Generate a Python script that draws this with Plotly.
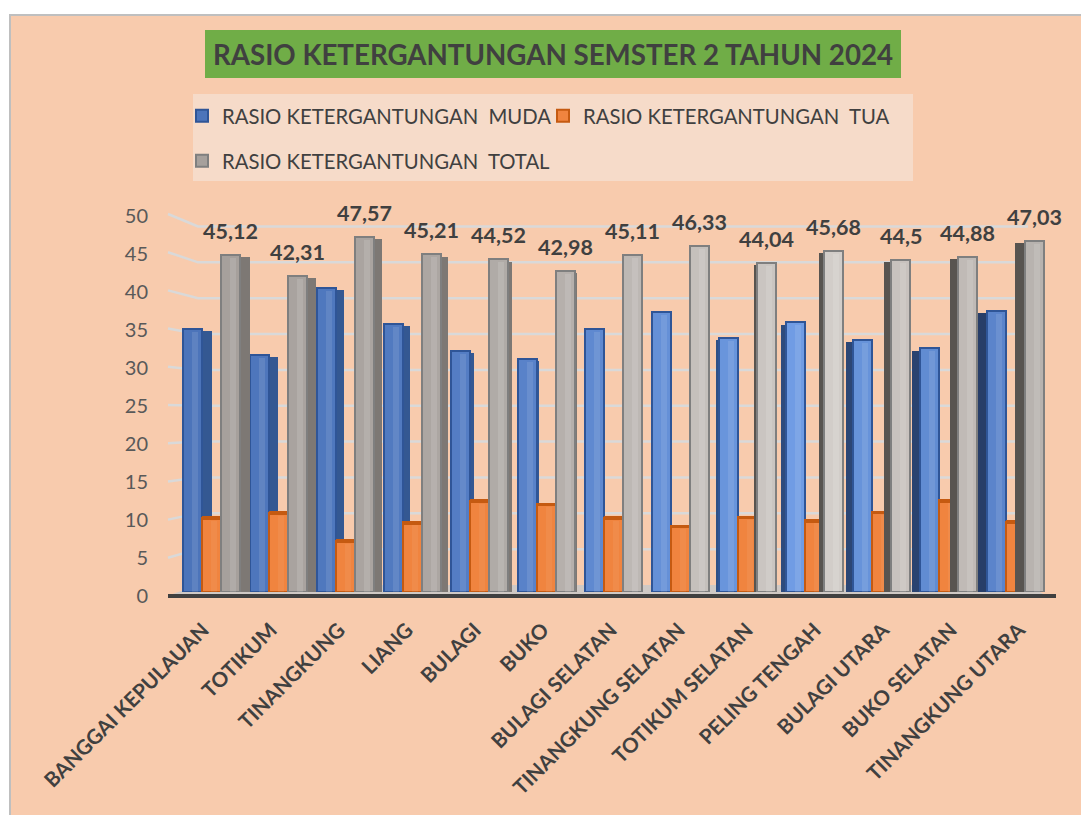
import plotly.graph_objects as go

TITLE = "RASIO KETERGANTUNGAN SEMSTER 2 TAHUN 2024"
CATEGORIES = ["BANGGAI KEPULAUAN", "TOTIKUM", "TINANGKUNG", "LIANG", "BULAGI", "BUKO",
              "BULAGI SELATAN", "TINANGKUNG SELATAN", "TOTIKUM SELATAN", "PELING TENGAH",
              "BULAGI UTARA", "BUKO SELATAN", "TINANGKUNG UTARA"]
MUDA = [35.2, 31.7, 40.7, 35.9, 32.3, 31.2, 35.2, 37.5, 34.0, 36.1, 33.8, 32.6, 37.6]
TUA = [9.92, 10.61, 6.87, 9.31, 12.22, 11.78, 9.91, 8.83, 10.04, 9.58, 10.7, 12.28, 9.43]
TOTAL = [45.12, 42.31, 47.57, 45.21, 44.52, 42.98, 45.11, 46.33, 44.04, 45.68, 44.5, 44.88, 47.03]
Y_TICKS = [0, 5, 10, 15, 20, 25, 30, 35, 40, 45, 50]
NAME_MUDA = "RASIO KETERGANTUNGAN  MUDA"
NAME_TUA = "RASIO KETERGANTUNGAN  TUA"
NAME_TOTAL = "RASIO KETERGANTUNGAN  TOTAL"

# styling
W, H = 1081, 815
FONT = "Lato"
INK = "#404040"
SIDE_PX = [10, 9, 8, 7, 4, 2, 0, -1, -3, -5, -7, -8, -10]
LIGHT = [0.0, 0.05, 0.08, 0.12, 0.2, 0.3, 0.45, 0.6, 0.7, 0.85, 0.65, 0.5, 0.35]
STEP = 67.0
BAR = 19.0 / STEP


def px_x(v):
    return v / W


def px_y(v):
    return 1 - v / H


def mix(a, b, t):
    return "rgb(%d,%d,%d)" % tuple(round(a[i] + (b[i] - a[i]) * t) for i in range(3))


def shades(a, b):
    return [mix(a, b, t) for t in LIGHT]


fig = go.Figure()
n = len(CATEGORIES)


def series(values, name, offs, face, edge, side, highlight, legend):
    # receding side face
    if side is not None:
        side_off = [offs + BAR if d > 0 else offs + d / STEP for d in SIDE_PX]
        side_w = [max(abs(d), 0.1) / STEP for d in SIDE_PX]
        fig.add_trace(go.Bar(x=CATEGORIES, y=[v - 0.3 for v in values], width=side_w, offset=side_off,
                             marker=dict(color=side, line=dict(width=0)),
                             showlegend=False, hoverinfo="skip"))
    # front face
    fig.add_trace(go.Bar(x=CATEGORIES, y=values, width=BAR, offset=offs, name=name, legend=legend,
                         marker=dict(color=face, line=dict(color=edge, width=2))))
    # bevel highlight
    fig.add_trace(go.Bar(x=CATEGORIES, y=[v - 0.4 for v in values], width=BAR * 0.3, offset=offs + BAR * 0.48,
                         marker=dict(color=highlight, line=dict(width=0)),
                         showlegend=False, hoverinfo="skip"))


blue_side = [mix((52, 88, 146), (40, 62, 104), abs(d) / 10 if d < 0 else 0) for d in SIDE_PX]
grey_side = [mix((125, 120, 116), (88, 84, 80), 1 if d < 0 else 0) for d in SIDE_PX]

series(MUDA, NAME_MUDA, -1.5 * BAR, shades((76, 116, 186), (118, 163, 235)), "#2F5597", blue_side,
       "rgba(255,255,255,0.10)", "legend")
series(TUA, NAME_TUA, -0.5 * BAR, "#F0843F", "#C55A11", None, "rgba(255,255,255,0.06)", "legend")
# cap of the orange columns
fig.add_trace(go.Bar(x=CATEGORIES, y=[0.5] * n, base=[v - 0.3 for v in TUA], width=BAR, offset=-0.5 * BAR,
                     marker=dict(color="#C55A11", line=dict(width=0)), showlegend=False, hoverinfo="skip"))
series(TOTAL, NAME_TOTAL, 0.5 * BAR, shades((166, 160, 156), (218, 213, 209)), "#7F7F7F", grey_side,
       "rgba(255,255,255,0.12)", "legend2")

# carrier of tick labels on their own axes
fig.add_trace(go.Scatter(x=CATEGORIES, y=TOTAL, xaxis="x2", yaxis="y2", mode="markers",
                         marker=dict(opacity=0), showlegend=False, hoverinfo="skip"))

shapes = [
    dict(type="rect", xref="paper", yref="paper", x0=px_x(10), x1=px_x(1090), y0=px_y(15), y1=px_y(830),
         fillcolor="#F8CBAD", line=dict(color="#BFBFBF", width=2), layer="below"),
    dict(type="rect", xref="paper", yref="paper", x0=px_x(205), x1=px_x(901), y0=px_y(30), y1=px_y(78),
         fillcolor="#70AD47", line=dict(width=0), layer="below"),
    dict(type="rect", xref="paper", yref="paper", x0=px_x(193), x1=px_x(913), y0=px_y(94), y1=px_y(181),
         fillcolor="rgba(242,242,242,0.4)", line=dict(width=0), layer="below"),
    # floor
    dict(type="path", xref="paper", yref="paper", layer="below", fillcolor="#CFC9C5", line=dict(width=0),
         path="M %f %f L %f %f L %f %f L %f %f Z" % (px_x(170), px_y(595), px_x(198), px_y(585),
                                                     px_x(1028), px_y(585), px_x(1045), px_y(595))),
    # axis line
    dict(type="line", xref="paper", yref="paper", layer="above", x0=px_x(168), x1=px_x(1056), y0=px_y(596), y1=px_y(596),
         line=dict(color="#404040", width=4)),
]
for t in Y_TICKS[1:]:
    yf, yb = 596 - 7.64 * t, 585 - 7.17 * t
    shapes.append(dict(type="path", xref="paper", yref="paper", layer="below",
                       line=dict(color="#D9D9D9", width=2.5),
                       path="M %f %f L %f %f L %f %f" % (px_x(168), px_y(yf), px_x(198), px_y(yb),
                                                         px_x(1028), px_y(yb))))

annotations = [dict(x=i + BAR, y=TOTAL[i], xref="x", yref="y", yshift=24, yanchor="middle", showarrow=False,
                    text=str(TOTAL[i]).replace(".", ","),
                    font=dict(family=FONT, size=21.5, color=INK, weight="bold"))
               for i in range(n)]

fig.update_layout(
    width=W, height=H, autosize=False, barmode="overlay", bargap=0,
    margin=dict(l=0, r=0, t=0, b=0, autoexpand=False),
    paper_bgcolor="white", plot_bgcolor="rgba(0,0,0,0)",
    font=dict(family=FONT, color="#595959"),
    title=dict(text="<b>%s</b>" % TITLE, x=553 / W, xanchor="center", y=px_y(55), yanchor="middle",
               font=dict(family=FONT, size=27.7, color=INK)),
    shapes=shapes, annotations=annotations,
    legend=dict(orientation="h", x=px_x(182), y=px_y(116), xanchor="left", yanchor="middle",
                bgcolor="rgba(0,0,0,0)", entrywidth=316, entrywidthmode="pixels",
                font=dict(family=FONT, size=20.3, color=INK)),
    legend2=dict(orientation="h", x=px_x(182), y=px_y(161), xanchor="left", yanchor="middle",
                 bgcolor="rgba(0,0,0,0)", font=dict(family=FONT, size=20.3, color=INK)),
    xaxis=dict(domain=[px_x(170), px_x(1056)], type="category", categoryorder="array", categoryarray=CATEGORIES,
               range=[(170 - 211.5) / STEP, (1056 - 211.5) / STEP], showticklabels=False,
               showgrid=False, zeroline=False, showline=False, ticks=""),
    yaxis=dict(domain=[px_y(592), px_y(181)], range=[0, (592 - 181) / 7.47], showticklabels=False,
               showgrid=False, zeroline=False, showline=False, ticks=""),
    xaxis2=dict(domain=[px_x(170), px_x(1056)], type="category", categoryorder="array", categoryarray=CATEGORIES,
                range=[(170 - 203) / 68.0, (1056 - 203) / 68.0], anchor="y2",
                tickmode="array", tickvals=CATEGORIES, ticktext=CATEGORIES, tickangle=-45,
                ticklabelstandoff=17, ticks="", showgrid=False, zeroline=False, showline=False,
                tickfont=dict(family=FONT, size=20.6, color=INK, weight="bold")),
    yaxis2=dict(domain=[px_y(596), px_y(216)], range=[0, 50], anchor="free", position=px_x(148),
                tickmode="array", tickvals=Y_TICKS, ticks="", showgrid=False, zeroline=False, showline=False,
                tickfont=dict(family=FONT, size=20, color="#595959")),
)
fig.write_html("out.html", config={"displayModeBar": False},
               post_script="document.body.style.margin='0';document.body.style.overflow='hidden';")
